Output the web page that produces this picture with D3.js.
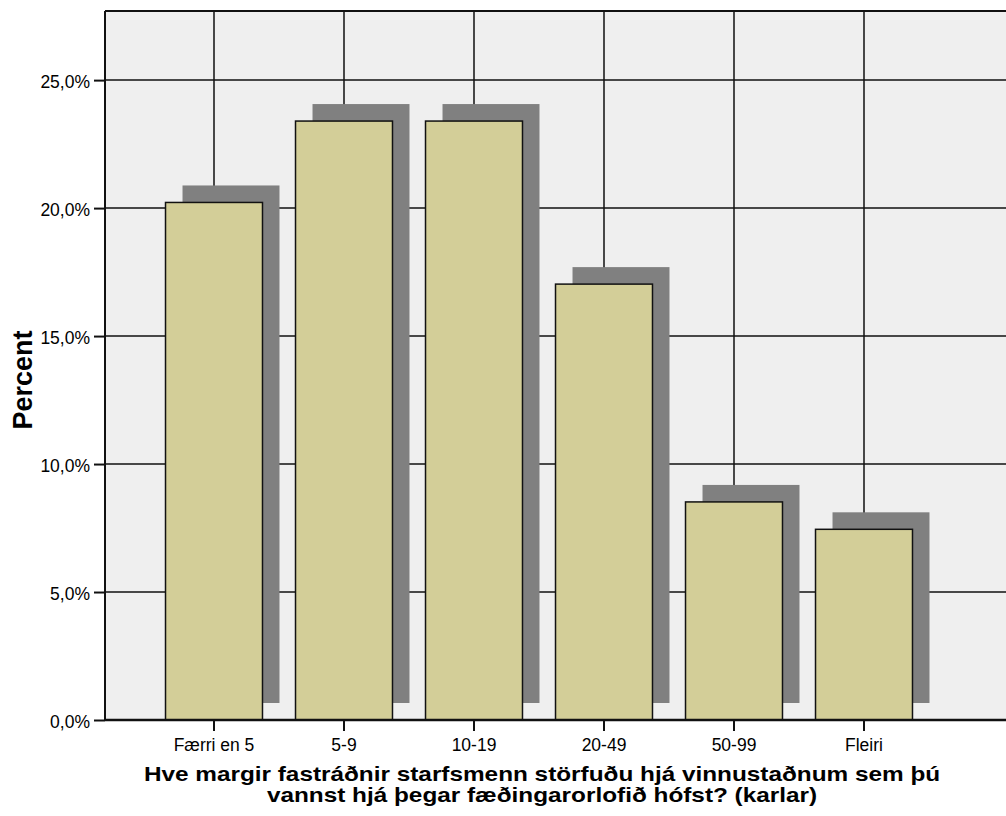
<!DOCTYPE html>
<html><head><meta charset="utf-8">
<script src="https://cdn.jsdelivr.net/npm/d3@7"></script>
<style>
body{margin:0;background:#fff;}
text{font-family:Arial,"Liberation Sans",Helvetica,sans-serif;fill:#000;}
</style></head>
<body>
<svg id="c" width="1006" height="816"></svg>
<script>
const categories = ["Færri en 5","5-9","10-19","20-49","50-99","Fleiri"];
const percents = [20.22, 23.40, 23.40, 17.03, 8.52, 7.45];
const yTicks = [0,5,10,15,20,25];
const yTitle = "Percent";
const xTitleLines = ["Hve margir fastráðnir starfsmenn störfuðu hjá vinnustaðnum sem þú","vannst hjá þegar fæðingarorlofið hófst? (karlar)"];

const svg = d3.select("#c");
const L = 105, R = 1006, T = 11, B = 720;
const depth = 17;
const x = d3.scaleBand().domain(categories).range([149, 929]).paddingInner(0.254).paddingOuter(0.127);
const y = d3.scaleLinear().domain([0, 27.7]).range([B, T]);
const fmt = v => d3.format(".1f")(v).replace(".", ",") + "%";

svg.append("rect").attr("x", L).attr("y", T).attr("width", R - L).attr("height", B - T).attr("fill", "#efefef");

// gridlines
svg.append("g").selectAll("line").data(yTicks.filter(d=>d>0)).join("line")
  .attr("x1", L).attr("x2", R).attr("y1", d=>y(d)).attr("y2", d=>y(d))
  .attr("stroke", "#111").attr("stroke-width", 1.5);
svg.append("g").selectAll("line").data(categories).join("line")
  .attr("x1", d=>x(d)+x.bandwidth()/2).attr("x2", d=>x(d)+x.bandwidth()/2)
  .attr("y1", T).attr("y2", B).attr("stroke", "#111").attr("stroke-width", 1.5);

// top border
svg.append("line").attr("x1", L).attr("x2", R).attr("y1", T).attr("y2", T).attr("stroke", "#111").attr("stroke-width", 2);

// shadows
svg.append("g").selectAll("rect").data(categories).join("rect")
  .attr("x", d=>x(d)+depth).attr("y", (d,i)=>y(percents[i])-depth)
  .attr("width", x.bandwidth()).attr("height", (d,i)=>y(0)-y(percents[i]))
  .attr("fill", "#808080");
// bars
svg.append("g").selectAll("rect").data(categories).join("rect")
  .attr("x", d=>x(d)).attr("y", (d,i)=>y(percents[i]))
  .attr("width", x.bandwidth()).attr("height", (d,i)=>y(0)-y(percents[i]))
  .attr("fill", "#d3ce98").attr("stroke", "#111").attr("stroke-width", 1.5);

// y axis
const ya = svg.append("g").attr("transform", `translate(${L},0)`)
  .call(d3.axisLeft(y).tickValues(yTicks).tickFormat(fmt).tickSize(11).tickPadding(4));
ya.select(".domain").attr("stroke", "#111").attr("stroke-width", 2).attr("d", `M0,${T}V${B}`);
ya.selectAll(".tick line").attr("stroke", "#111").attr("stroke-width", 2);
ya.selectAll(".tick text").attr("font-size", 17.5).attr("font-family", "Arial,'Liberation Sans',sans-serif").attr("dy", "0.4em");

// x axis
const xa = svg.append("g").attr("transform", `translate(0,${B})`)
  .call(d3.axisBottom(x).tickSize(11).tickPadding(8));
xa.select(".domain").attr("stroke", "#111").attr("stroke-width", 2.5).attr("d", `M${L},0H${R}`);
xa.selectAll(".tick line").attr("stroke", "#111").attr("stroke-width", 2);
xa.selectAll(".tick text").attr("font-size", 17.5).attr("font-family", "Arial,'Liberation Sans',sans-serif");

// titles
svg.append("text").attr("transform", "translate(32,380) rotate(-90)").attr("text-anchor", "middle")
  .attr("font-weight", "bold").attr("font-size", 27).text(yTitle);
const xt = svg.append("text").attr("text-anchor", "middle")
  .attr("transform", "translate(542,0) scale(1.217,1)")
  .attr("font-weight", "bold").attr("font-size", 20);
xt.selectAll("tspan").data(xTitleLines).join("tspan")
  .attr("x", 0).attr("y", (d,i)=>781 + i*21).text(d=>d);
</script>
</body></html>
